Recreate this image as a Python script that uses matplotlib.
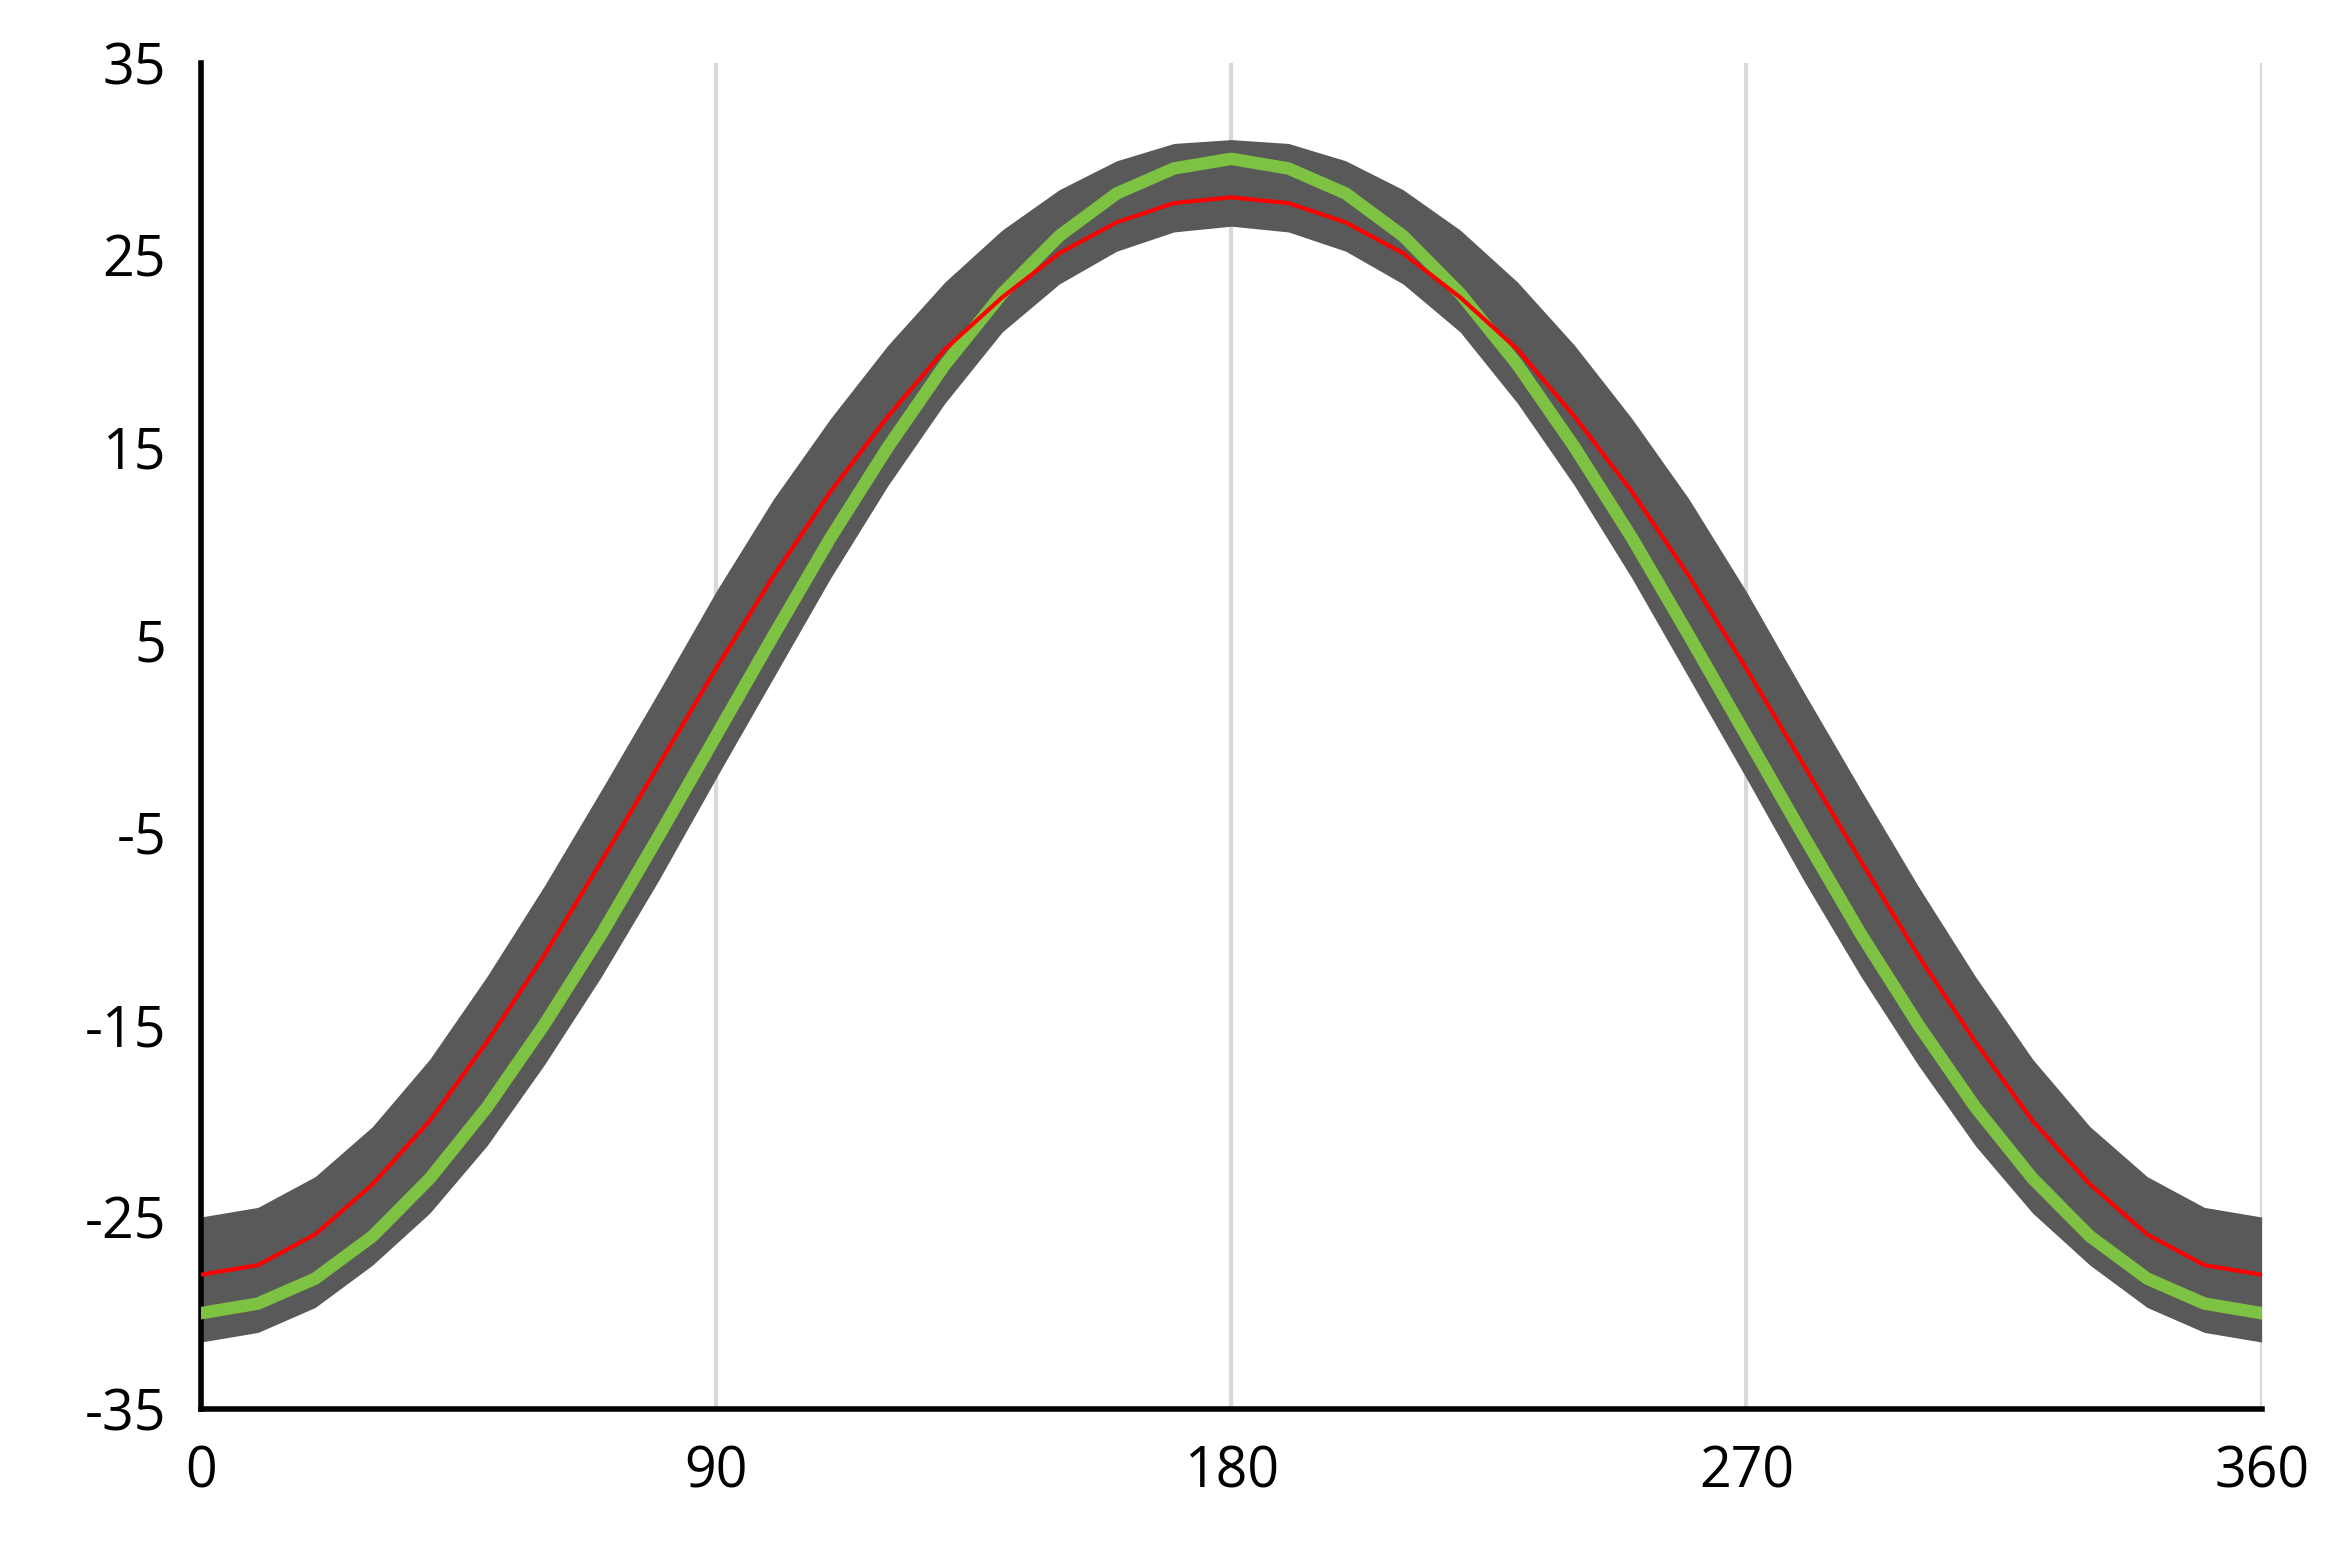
import matplotlib
matplotlib.use("Agg")
import matplotlib.pyplot as plt
import numpy as np

plt.rcParams['axes.unicode_minus'] = False
plt.rcParams['font.family'] = ['Open Sans', 'DejaVu Sans']

# angle samples every 10 degrees
angle = list(range(0, 361, 10))

half_green = [-30, -29.5, -28.2, -26.0, -23.0, -19.3, -15.0, -10.3, -5.2, 0,
              5.2, 10.3, 15.0, 19.3, 23.0, 26.0, 28.2, 29.5, 30]
half_red = [-28, -27.5, -25.9, -23.3, -20.0, -15.9, -11.4, -6.5, -1.5, 3.5,
            8.3, 12.7, 16.6, 20.1, 22.8, 25.1, 26.7, 27.7, 28]
half_upper = [-25, -24.5, -22.9, -20.3, -16.8, -12.5, -7.8, -2.8, 2.3, 7.5,
              12.3, 16.5, 20.3, 23.6, 26.3, 28.4, 29.9, 30.8, 31]
half_lower = [-31.5, -31, -29.7, -27.5, -24.8, -21.3, -17.1, -12.5, -7.5, -2.2,
              3.0, 8.2, 13.0, 17.3, 21.0, 23.5, 25.2, 26.2, 26.5]

green = half_green + half_green[-2::-1]
red = half_red + half_red[-2::-1]
upper = half_upper + half_upper[-2::-1]
lower = half_lower + half_lower[-2::-1]

xticks = [0, 90, 180, 270, 360]
yticks = [-35, -25, -15, -5, 5, 15, 25, 35]

fig = plt.figure(figsize=(23.34, 15.66), dpi=100)
ax = fig.add_axes([0.086, 0.1, 0.883, 0.86])

ax.fill_between(angle, lower, upper, color="#595959", lw=0, zorder=2)
ax.plot(angle, green, color="#7dc242", lw=9, zorder=3, solid_joinstyle="round")
ax.plot(angle, red, color="#ff0000", lw=3, zorder=4, solid_joinstyle="round")

ax.set_xlim(0, 360)
ax.set_ylim(-35, 35)
ax.set_xticks(xticks)
ax.set_yticks(yticks)
ax.xaxis.grid(True, color="#d9d9d9", lw=3, zorder=0)
ax.set_axisbelow(True)
ax.tick_params(length=0, labelsize=40, pad=25)
for s in ["top", "right"]:
    ax.spines[s].set_visible(False)
for s in ["left", "bottom"]:
    ax.spines[s].set_linewidth(4)

fig.savefig("out.png", dpi=100)
